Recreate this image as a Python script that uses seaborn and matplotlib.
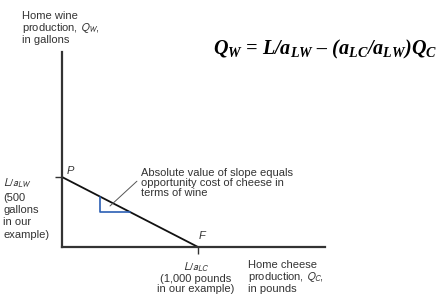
import matplotlib
matplotlib.use("Agg")
import matplotlib.pyplot as plt
import seaborn as sns
import pandas as pd

# Data
wine_intercept = 500      # L/a_LW
cheese_intercept = 1000   # L/a_LC
ppf_cheese = [0, cheese_intercept]
ppf_wine = [wine_intercept, 0]
tri_cheese = [280, 280, 500]
tri_wine = [360, 250, 250]

sns.set_theme(style="white")
plt.rcParams['font.family'] = ['Liberation Sans', 'DejaVu Sans']
plt.rcParams['mathtext.fontset'] = 'custom'
plt.rcParams['mathtext.rm'] = 'Liberation Serif:bold:italic'
plt.rcParams['mathtext.it'] = 'Liberation Serif:bold:italic'

fig = plt.figure(figsize=(4.37, 3.03), dpi=100)
ax = fig.add_axes([62/437, 56/303, 263/437, 195/303])

df = pd.DataFrame({"cheese": ppf_cheese, "wine": ppf_wine})
sns.lineplot(data=df, x="cheese", y="wine", ax=ax, color="#111111", lw=1.3)
ax.plot(tri_cheese, tri_wine, color="#2b5fb4", lw=1.2)
ax.plot([353, 551], [293, 470], color="#555555", lw=0.7)

ax.set_xlim(0, 1934)
ax.set_ylim(0, 1393)
ax.set_xticks([cheese_intercept])
ax.set_yticks([wine_intercept])
ax.set_xticklabels([])
ax.set_yticklabels([])
ax.tick_params(axis='both', length=5, width=1, color="#333333", direction='out', bottom=True, left=True)
ax.set_xlabel("")
ax.set_ylabel("")
for s in ["top", "right"]:
    ax.spines[s].set_visible(False)
for s in ["left", "bottom"]:
    ax.spines[s].set_color("#333333")
    ax.spines[s].set_linewidth(1.6)

tc = "#333333"
fs = 8
mf = 'stixsans'
fig.text(22/437, 1 - 11/303, "Home wine\nproduction, $Q_W$,\nin gallons", fontsize=fs, color=tc,
         va='top', ha='left', linespacing=1.02, math_fontfamily=mf)
fig.text(248/437, 1 - 260/303, "Home cheese\nproduction, $Q_C$,\nin pounds", fontsize=fs, color=tc,
         va='top', ha='left', linespacing=1.0, math_fontfamily=mf)
fig.text(3/437, 1 - 177/303, "$L/a_{LW}$\n(500\ngallons\nin our\nexample)", fontsize=fs, color=tc,
         va='top', ha='left', linespacing=1.29, math_fontfamily=mf)
fig.text(196/437, 1 - 261/303, "$L/a_{LC}$\n(1,000 pounds\nin our example)", fontsize=fs, color=tc,
         va='top', ha='center', linespacing=1.0, math_fontfamily=mf)
fig.text(141/437, 1 - 168/303, "Absolute value of slope equals\nopportunity cost of cheese in\nterms of wine",
         fontsize=fs, color=tc, va='top', ha='left', linespacing=0.98)
fig.text(67/437, 1 - 171/303, "P", fontsize=8, color=tc, style='italic', va='center', ha='left')
fig.text(199/437, 1 - 236/303, "F", fontsize=8, color=tc, style='italic', va='center', ha='left')

fig.text(213/437, 1 - 49/303, r"$Q_W$ = $L/a_{LW}$ – ($a_{LC}/a_{LW}$)$Q_C$",
         fontsize=14.5, color="black", va='center', ha='left',
         family=['Liberation Serif'], weight='bold', style='italic',
         math_fontfamily='custom')

fig.savefig("out.png", dpi=100)
